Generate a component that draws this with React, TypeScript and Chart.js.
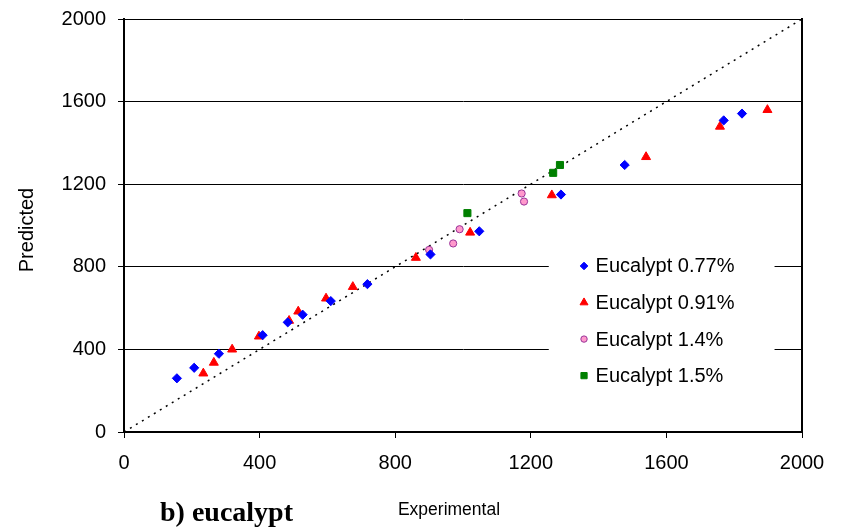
import React, { useEffect, useRef } from 'react';
import { Chart, registerables } from 'chart.js';

Chart.register(...registerables);

const seriesLabels = ['Eucalypt 0.77%', 'Eucalypt 0.91%', 'Eucalypt 1.4%', 'Eucalypt 1.5%'];

const e077X = [156, 207, 280, 409, 483, 527, 610, 718, 904, 1048, 1289, 1477, 1769, 1823];
const e077Y = [260, 311, 379, 469, 531, 568, 634, 716, 860, 972, 1150, 1293, 1509, 1542];

const e091X = [234, 265, 319, 398, 487, 514, 596, 675, 861, 1021, 1262, 1540, 1758, 1898];
const e091Y = [284, 336, 400, 463, 539, 584, 647, 703, 844, 966, 1147, 1332, 1479, 1560];

const e14X = [900, 971, 990, 1173, 1180];
const e14Y = [882, 913, 982, 1155, 1116];

const e15X = [1013, 1266, 1286];
const e15Y = [1060, 1255, 1293];

const lineX = [0, 2000];
const lineY = [0, 2000];

const xTicks = [0, 400, 800, 1200, 1600, 2000];
const yTicks = [0, 400, 800, 1200, 1600, 2000];

const xTitle = 'Experimental';
const yTitle = 'Predicted';
const caption = 'b) eucalypt';

const SANS = '"Liberation Sans", Arial, sans-serif';
const SERIF = '"Liberation Serif", "Times New Roman", serif';

const pts = (xs: number[], ys: number[]) => xs.map((x, i) => ({ x, y: ys[i] }));

const styles = [
  { style: 'rectRot', fill: '#0000ff', stroke: '#0000ff', r: 4.6, lr: 3.8, bw: 1 },
  { style: 'triangle', fill: '#ff0000', stroke: '#ff0000', r: 5.2, lr: 4.6, bw: 1 },
  { style: 'circle', fill: '#ff99cc', stroke: '#993399', r: 3.6, lr: 3.2, bw: 1 },
  { style: 'rect', fill: '#008000', stroke: '#008000', r: 5.0, lr: 4.4, bw: 1 },
];

function drawMarker(ctx: CanvasRenderingContext2D, style: string, x: number, y: number, r: number, fill: string, stroke: string) {
  ctx.beginPath();
  if (style === 'rectRot') {
    ctx.moveTo(x, y - r);
    ctx.lineTo(x + r, y);
    ctx.lineTo(x, y + r);
    ctx.lineTo(x - r, y);
    ctx.closePath();
  } else if (style === 'triangle') {
    ctx.moveTo(x, y - r);
    ctx.lineTo(x + r * 0.866, y + r * 0.5);
    ctx.lineTo(x - r * 0.866, y + r * 0.5);
    ctx.closePath();
  } else if (style === 'circle') {
    ctx.arc(x, y, r, 0, Math.PI * 2);
  } else {
    const s = r * Math.SQRT1_2;
    ctx.rect(x - s, y - s, 2 * s, 2 * s);
  }
  ctx.fillStyle = fill;
  ctx.fill();
  ctx.strokeStyle = stroke;
  ctx.lineWidth = 1;
  ctx.stroke();
}

const decorPlugin = {
  id: 'decor',
  beforeDatasetsDraw(chart: any) {
    const ctx: CanvasRenderingContext2D = chart.ctx;
    const ca = chart.chartArea;
    const w = ca.right - ca.left;
    const h = ca.bottom - ca.top;
    const bx = ca.left + w * 0.6265;
    const by = ca.top + h * 0.55;
    const bw = w * 0.333;
    const bh = h * 0.355;
    ctx.save();
    ctx.fillStyle = '#ffffff';
    ctx.fillRect(bx, by, bw, bh);
    const mx = ca.left + w * 0.6785;
    const tx = ca.left + w * 0.6955;
    const y0 = ca.top + h * 0.598;
    const dy = h * 0.0885;
    ctx.font = `20px ${SANS}`;
    ctx.textBaseline = 'middle';
    ctx.textAlign = 'left';
    chart.data.datasets.forEach((ds: any, i: number) => {
      if (i >= styles.length) return;
      const st = styles[i];
      const yy = y0 + dy * i;
      drawMarker(ctx, st.style, mx, yy, st.lr, st.fill, st.stroke);
      ctx.fillStyle = '#000';
      ctx.fillText(ds.label, tx, yy + 1);
    });
    ctx.restore();
  },
  afterDraw(chart: any) {
    const ctx: CanvasRenderingContext2D = chart.ctx;
    const ca = chart.chartArea;
    ctx.save();
    ctx.strokeStyle = '#000';
    ctx.lineWidth = 2;
    ctx.beginPath();
    ctx.moveTo(ca.right, ca.top - 1);
    ctx.lineTo(ca.right, ca.bottom + 1);
    ctx.stroke();

    ctx.fillStyle = '#000';
    ctx.font = `20px ${SANS}`;
    ctx.textAlign = 'center';
    ctx.textBaseline = 'middle';
    ctx.translate(27, 230);
    ctx.rotate(-Math.PI / 2);
    ctx.fillText(yTitle, 0, 0);
    ctx.restore();

    ctx.save();
    ctx.fillStyle = '#000';
    ctx.font = `17.5px ${SANS}`;
    ctx.textAlign = 'center';
    ctx.textBaseline = 'alphabetic';
    ctx.fillText(xTitle, 449, 515);
    ctx.font = `bold 28px ${SERIF}`;
    ctx.textAlign = 'left';
    ctx.fillText(caption, 160, 521);
    ctx.restore();
  },
};

export default function App() {
  const ref = useRef<HTMLCanvasElement>(null);
  useEffect(() => {
    if (!ref.current) return;
    const mk = (i: number, data: any[]) => ({
      type: 'scatter' as const,
      label: seriesLabels[i],
      data,
      pointStyle: styles[i].style,
      pointRadius: styles[i].r,
      pointBackgroundColor: styles[i].fill,
      pointBorderColor: styles[i].stroke,
      pointBorderWidth: styles[i].bw,
      showLine: false,
    });
    const chart = new Chart(ref.current, {
      type: 'scatter',
      data: {
        datasets: [
          mk(0, pts(e077X, e077Y)),
          mk(1, pts(e091X, e091Y)),
          mk(2, pts(e14X, e14Y)),
          mk(3, pts(e15X, e15Y)),
          {
            type: 'line',
            label: 'y=x',
            data: pts(lineX, lineY),
            borderColor: '#000',
            borderWidth: 1.5,
            borderDash: [2, 5],
            pointRadius: 0,
            fill: false,
          } as any,
        ],
      },
      plugins: [decorPlugin],
      options: {
        animation: false,
        responsive: false,
        layout: { padding: { top: 19, right: 45, left: 0, bottom: 0 } },
        plugins: { legend: { display: false }, tooltip: { enabled: false } },
        scales: {
          x: {
            type: 'linear',
            min: 0,
            max: 2000,
            afterBuildTicks: (s: any) => { s.ticks = xTicks.map((v) => ({ value: v })); },
            afterFit: (s: any) => { s.height = 95; s.paddingLeft = 0; s.paddingRight = 0; },
            grid: { display: true, drawOnChartArea: false, drawTicks: true, tickLength: 6, color: '#000', lineWidth: 1 },
            border: { display: true, color: '#000', width: 2 },
            ticks: { color: '#000', font: { family: SANS, size: 20 }, padding: 13, maxRotation: 0, callback: (v: any) => String(v) },
          },
          y: {
            type: 'linear',
            min: 0,
            max: 2000,
            afterBuildTicks: (s: any) => { s.ticks = yTicks.map((v) => ({ value: v })); },
            afterFit: (s: any) => { s.width = 124; s.paddingTop = 0; s.paddingBottom = 0; },
            grid: { display: true, drawOnChartArea: true, drawTicks: true, tickLength: 6, color: '#000', lineWidth: 1 },
            border: { display: true, color: '#000', width: 2 },
            ticks: { color: '#000', font: { family: SANS, size: 20 }, padding: 12, callback: (v: any) => String(v) },
          },
        },
      } as any,
    });
    return () => chart.destroy();
  }, []);
  return (
    <div style={{ position: 'fixed', left: 0, top: 0, width: 847, height: 527, background: '#fff' }}>
      <canvas ref={ref} width={847} height={527} style={{ display: 'block' }} />
    </div>
  );
}
